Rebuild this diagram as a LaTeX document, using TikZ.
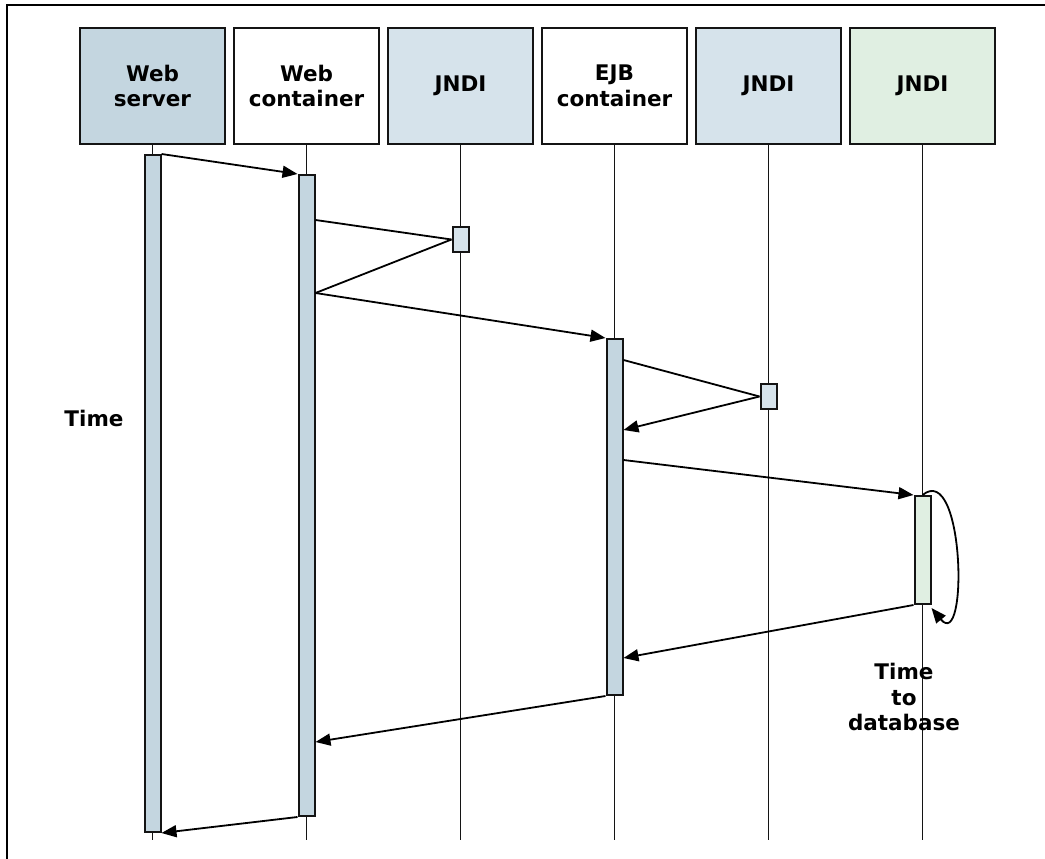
\documentclass[tikz,border=0pt]{standalone}
\usepackage{fontspec}
\setmainfont{DejaVu Sans}
\usetikzlibrary{arrows.meta,positioning,calc}
\definecolor{sdsteel}{RGB}{196,214,224}
\definecolor{sdpale}{RGB}{214,227,235}
\definecolor{sdgreen}{RGB}{224,239,226}
\definecolor{sdline}{RGB}{20,20,20}

\begin{document}
\begin{tikzpicture}[
  x=1pt, y=-1pt,
  >={Triangle[length=15pt,width=12pt]},
  font=\fontsize{21.5}{25.5}\selectfont\bfseries,
  head/.style={draw=sdline, line width=2.2pt, align=center, inner sep=0pt,
               minimum width=145pt, minimum height=116pt},
  bar/.style={draw=sdline, line width=2pt, fill=sdsteel, inner sep=0pt,
              minimum width=16pt},
  lifeline/.style={line width=1.7pt, draw=sdline},
  msg/.style={->, line width=1.8pt},
  call/.style={line width=1.8pt}
]
\useasboundingbox (0,0) rectangle (1045,859);
\draw[line width=1.6pt] (7,859) |- (1045,5);

\node[head, fill=sdsteel] (ws) at (152.5,86) {Web\\server};
\node[head, fill=white] (wc) at (306.5,86) {Web\\container};
\node[head, fill=sdpale] (jna) at (460.5,86) {JNDI};
\node[head, fill=white] (ejb) at (614.5,86) {EJB\\container};
\node[head, fill=sdpale] (jnb) at (768.5,86) {JNDI};
\node[head, fill=sdgreen] (db) at (922.5,86) {JNDI};

\foreach \n in {ws,wc,jna,ejb,jnb,db}
  \draw[lifeline] (\n.south) -- (\n.south |- 0,840);

\node[bar, minimum height=677pt] (wsbar) at (152.5,493.5) {};
\node[bar, minimum height=641pt] (wcbar) at (306.5,495.5) {};
\node[bar, fill=sdpale, minimum height=25pt] (jnabar) at (460.5,239.5) {};
\node[bar, minimum height=356pt] (ejbbar) at (614.5,517) {};
\node[bar, fill=sdpale, minimum height=25pt] (jnbbar) at (768.5,396.5) {};
\node[bar, fill=sdgreen, minimum height=108pt] (dbbar) at (922.5,550) {};

\draw[msg] (wsbar.north east) -- (wcbar.north west);
\draw[call] (wcbar.east |- 0,220) -- (jnabar.west);
\draw[call] (jnabar.west) -- (wcbar.east |- 0,293);
\draw[msg] (wcbar.east |- 0,293) -- (ejbbar.north west);
\draw[call] (ejbbar.east |- 0,360) -- (jnbbar.west);
\draw[msg] (jnbbar.west) -- (ejbbar.east |- 0,430);
\draw[msg] (ejbbar.east |- 0,460) -- (dbbar.north west);
\draw[msg] (dbbar.north) .. controls +(42,-34) and +(37,45) .. ($(dbbar.south east)+(0,3)$);
\draw[msg] (dbbar.south west) -- (ejbbar.east |- 0,658);
\draw[msg] (ejbbar.south west) -- (wcbar.east |- 0,742);
\draw[msg] (wcbar.south west) -- (wsbar.south east);

\node (time) at (94,418) {Time};
\node[align=center] (ttd) at (904,697) {Time\\to\\database};
\end{tikzpicture}
\end{document}
